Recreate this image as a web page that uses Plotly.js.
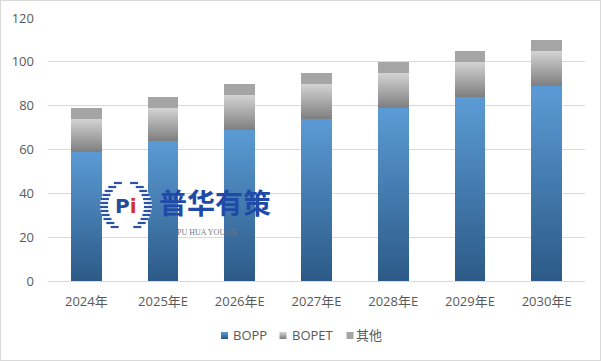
<!DOCTYPE html>
<html><head><meta charset="utf-8">
<script src="https://cdn.plot.ly/plotly-3.0.1.min.js"></script>
<style>html,body{margin:0;padding:0;background:#fff}#c{width:599px;height:359px;border:1px solid #d9d9d9}</style>
</head><body><div id="c"></div>
<script>
const categories = ["2024年","2025年E","2026年E","2027年E","2028年E","2029年E","2030年E"];
const bopp  = [59, 64, 69, 74, 79, 84, 89];
const bopet = [15, 15, 16, 16, 16, 16, 16];
const other = [5, 5, 5, 5, 5, 5, 5];
const yTicks = [0, 20, 40, 60, 80, 100, 120];

const font = {family: "'Open Sans','Noto Sans CJK SC',sans-serif", size: 13, color: '#595959'};
const L = 47, W = 537, B = 280, H = 263;
const px = v => (v - 1 - L) / W, py = v => (B + 1 - v) / H;

const traces = [
  {type:'bar', name:'BOPP', x:categories, y:bopp, marker:{color:'#4a86c0'}},
  {type:'bar', name:'BOPET', x:categories, y:bopet, marker:{color:'#ababab'}},
  {type:'bar', name:'其他', x:categories, y:other, marker:{color:'#a5a5a5'}}
];

// watermark logo: striped circle
const shapes = [];
const cx = 126, cy = 206, r = 26;
shapes.push({type:'circle', xref:'paper', yref:'paper', x0:px(cx-r), x1:px(cx+r), y0:py(cy+r), y1:py(cy-r), line:{width:0}, fillcolor:'rgba(255,255,255,0.9)', layer:'above'});
for (let dy = -23; dy <= 23; dy += 4) {
  const w = Math.sqrt(r*r - dy*dy);
  shapes.push({type:'line', xref:'paper', yref:'paper', x0:px(cx-w), x1:px(cx-w+Math.min(8, w)), y0:py(cy+dy), y1:py(cy+dy), line:{color:'#2a52a0', width:2.2}, layer:'above'});
  shapes.push({type:'line', xref:'paper', yref:'paper', x0:px(cx+w-Math.min(8, w)), x1:px(cx+w), y0:py(cy+dy), y1:py(cy+dy), line:{color:'#2a52a0', width:2.2}, layer:'above'});
}

const layout = {
  width:599, height:359, barmode:'stack', bargap:0.6,
  margin:{l:L, r:15, t:17, b:79, autoexpand:false},
  paper_bgcolor:'#fff', plot_bgcolor:'#fff', font:font,
  showlegend:true,
  legend:{orientation:'h', x:0.5, xanchor:'center', y:-0.207, yanchor:'middle', font:{...font, size:13}, itemwidth:30, traceorder:'normal'},
  xaxis:{showgrid:false, showline:true, linecolor:'#d9d9d9', ticks:'', tickfont:font, ticklabelstandoff:8, automargin:false},
  yaxis:{range:[0,120], tickvals:yTicks, gridcolor:'#d9d9d9', zeroline:false, showline:false, ticks:'', tickfont:font, ticklabelstandoff:13, automargin:false},
  shapes:shapes,
  annotations:[
    {xref:'paper', yref:'paper', x:px(cx), y:py(cy), xanchor:'center', yanchor:'middle', text:'<b>P<span style="color:#d03030">i</span></b>', showarrow:false, font:{family:'DejaVu Sans', size:20, color:'#1f4e9c'}},
    {xref:'paper', yref:'paper', x:px(215), y:py(202), xanchor:'center', yanchor:'middle', text:'<b>普华有策</b>', showarrow:false, font:{family:"'Noto Sans CJK SC'", size:28, color:'#1f4aa8'}},
    {xref:'paper', yref:'paper', x:px(207), y:py(232), xanchor:'center', yanchor:'middle', text:'PU HUA YOU CE', showarrow:false, font:{family:"'Liberation Serif'", size:8, color:'#777'}}
  ]
};
Plotly.newPlot('c', traces, layout, {displayModeBar:false, staticPlot:true}).then(function(gd){
  const svg = gd.querySelector('svg.main-svg');
  const ns = 'http://www.w3.org/2000/svg';
  let defs = svg.querySelector('defs');
  function grad(id, top, bot){
    const g = document.createElementNS(ns,'linearGradient');
    g.setAttribute('id', id); g.setAttribute('x1','0'); g.setAttribute('y1','0'); g.setAttribute('x2','0'); g.setAttribute('y2','1');
    [[0,top],[1,bot]].forEach(function(s){const st=document.createElementNS(ns,'stop'); st.setAttribute('offset',s[0]); st.setAttribute('stop-color',s[1]); g.appendChild(st);});
    defs.appendChild(g);
  }
  grad('gBOPP','#5b9bd5','#2c5a87');
  grad('gBOPET','#d4d4d4','#7f7f7f');
  const ids = ['gBOPP','gBOPET',null];
  gd.querySelectorAll('.barlayer .trace').forEach(function(t,i){
    if(ids[i]) t.querySelectorAll('path').forEach(function(p){p.style.fill='url(#'+ids[i]+')';});
  });
  const host = gd.getBoundingClientRect();
  const symC = [224.5, 283, 350], txtX = [233, 292, 356];
  gd.querySelectorAll('.legend .traces').forEach(function(t,i){
    t.querySelectorAll('.legendpoints path').forEach(function(p){
      if(ids[i]) p.style.fill='url(#'+ids[i]+')';
      p.setAttribute('d','M3.5,3.5H-3.5V-3.5H3.5Z');
      const rc = p.getBoundingClientRect();
      const dx = symC[i] - (rc.left + rc.width/2 - host.left);
      p.setAttribute('transform','translate('+dx+',0) '+(p.getAttribute('transform')||''));
    });
    const tx = t.querySelector('.legendtext');
    if (tx) {
      const rc = tx.getBoundingClientRect();
      const dx = txtX[i] - (rc.left - host.left);
      tx.setAttribute('x', parseFloat(tx.getAttribute('x')||0) + dx);
      tx.querySelectorAll('tspan[x]').forEach(function(s){ s.setAttribute('x', parseFloat(s.getAttribute('x')) + dx); });
    }
  });
});
</script></body></html>
